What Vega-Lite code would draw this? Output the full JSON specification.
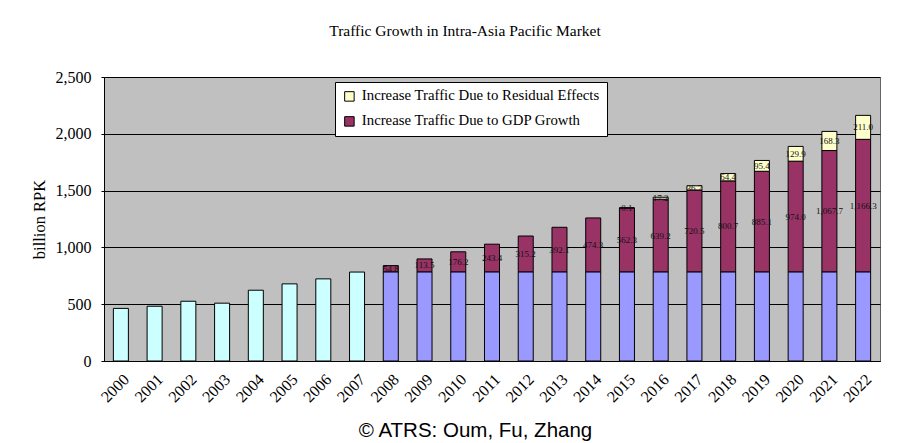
{
  "$schema": "https://vega.github.io/schema/vega-lite/v6.json",
  "background": "white",
  "padding": {"left": 30, "top": 23, "right": 0, "bottom": 0},
  "title": {
    "text": "© ATRS: Oum, Fu, Zhang",
    "orient": "bottom",
    "anchor": "middle",
    "font": "Liberation Sans",
    "fontSize": 20.5,
    "fontWeight": "normal",
    "color": "black",
    "offset": 16,
    "dx": 20
  },
  "vconcat": [
    {
      "width": 776,
      "height": 284,
      "title": {
        "text": "Traffic Growth in Intra-Asia Pacific Market",
        "font": "Liberation Serif",
        "fontSize": 15.5,
        "fontWeight": "normal",
        "color": "black",
        "anchor": "middle",
        "dx": -27,
        "offset": 30
      },
      "data": {
        "values": [
          {"year": "2000", "component": "Actual Traffic", "value": 463},
          {"year": "2001", "component": "Actual Traffic", "value": 482},
          {"year": "2002", "component": "Actual Traffic", "value": 526},
          {"year": "2003", "component": "Actual Traffic", "value": 509},
          {"year": "2004", "component": "Actual Traffic", "value": 623},
          {"year": "2005", "component": "Actual Traffic", "value": 679},
          {"year": "2006", "component": "Actual Traffic", "value": 723},
          {"year": "2007", "component": "Actual Traffic", "value": 783},
          {"year": "2008", "component": "Base Traffic", "value": 785},
          {"year": "2008", "component": "Increase Traffic Due to GDP Growth", "value": 54.8},
          {"year": "2009", "component": "Base Traffic", "value": 785},
          {"year": "2009", "component": "Increase Traffic Due to GDP Growth", "value": 113.5},
          {"year": "2010", "component": "Base Traffic", "value": 785},
          {"year": "2010", "component": "Increase Traffic Due to GDP Growth", "value": 176.2},
          {"year": "2011", "component": "Base Traffic", "value": 785},
          {"year": "2011", "component": "Increase Traffic Due to GDP Growth", "value": 243.4},
          {"year": "2012", "component": "Base Traffic", "value": 785},
          {"year": "2012", "component": "Increase Traffic Due to GDP Growth", "value": 315.2},
          {"year": "2013", "component": "Base Traffic", "value": 785},
          {"year": "2013", "component": "Increase Traffic Due to GDP Growth", "value": 392.1},
          {"year": "2014", "component": "Base Traffic", "value": 785},
          {"year": "2014", "component": "Increase Traffic Due to GDP Growth", "value": 474.3},
          {"year": "2015", "component": "Base Traffic", "value": 785},
          {"year": "2015", "component": "Increase Traffic Due to GDP Growth", "value": 562.3},
          {"year": "2015", "component": "Increase Traffic Due to Residual Effects", "value": 0.1},
          {"year": "2016", "component": "Base Traffic", "value": 785},
          {"year": "2016", "component": "Increase Traffic Due to GDP Growth", "value": 639.2},
          {"year": "2016", "component": "Increase Traffic Due to Residual Effects", "value": 17.2},
          {"year": "2017", "component": "Base Traffic", "value": 785},
          {"year": "2017", "component": "Increase Traffic Due to GDP Growth", "value": 720.5},
          {"year": "2017", "component": "Increase Traffic Due to Residual Effects", "value": 36.7},
          {"year": "2018", "component": "Base Traffic", "value": 785},
          {"year": "2018", "component": "Increase Traffic Due to GDP Growth", "value": 800.7},
          {"year": "2018", "component": "Increase Traffic Due to Residual Effects", "value": 64.4},
          {"year": "2019", "component": "Base Traffic", "value": 785},
          {"year": "2019", "component": "Increase Traffic Due to GDP Growth", "value": 885.1},
          {"year": "2019", "component": "Increase Traffic Due to Residual Effects", "value": 95.4},
          {"year": "2020", "component": "Base Traffic", "value": 785},
          {"year": "2020", "component": "Increase Traffic Due to GDP Growth", "value": 974.0},
          {"year": "2020", "component": "Increase Traffic Due to Residual Effects", "value": 129.9},
          {"year": "2021", "component": "Base Traffic", "value": 785},
          {"year": "2021", "component": "Increase Traffic Due to GDP Growth", "value": 1067.7},
          {"year": "2021", "component": "Increase Traffic Due to Residual Effects", "value": 168.3},
          {"year": "2022", "component": "Base Traffic", "value": 785},
          {"year": "2022", "component": "Increase Traffic Due to GDP Growth", "value": 1166.3},
          {"year": "2022", "component": "Increase Traffic Due to Residual Effects", "value": 211.0}
        ]
      },
      "encoding": {
        "x": {
          "field": "year",
          "type": "ordinal",
          "scale": {"paddingInner": 0.555, "paddingOuter": 0.2775},
          "axis": {
            "title": null,
            "labelAngle": -45,
            "labelFont": "Liberation Serif",
            "labelFontSize": 16,
            "labelColor": "black",
            "labelPadding": 10,
            "ticks": false,
            "domain": true,
            "domainColor": "black",
            "grid": false
          }
        },
        "y": {
          "field": "value",
          "type": "quantitative",
          "stack": "zero",
          "scale": {"domain": [0, 2500], "nice": false},
          "axis": {
            "title": "billion RPK",
            "titleFont": "Liberation Serif",
            "titleFontSize": 16.5,
            "titleFontWeight": "normal",
            "titleColor": "black",
            "titlePadding": 8,
            "values": [0, 500, 1000, 1500, 2000, 2500],
            "format": ",.0f",
            "labelFont": "Liberation Serif",
            "labelFontSize": 16,
            "labelColor": "black",
            "labelPadding": 10,
            "tickSize": 3,
            "tickColor": "black",
            "domain": true,
            "domainColor": "black",
            "grid": true,
            "gridColor": "black",
            "gridOpacity": 1,
            "gridWidth": 1
          }
        }
      },
      "layer": [
        {
          "mark": {"type": "bar", "stroke": "black", "strokeWidth": 1},
          "encoding": {
            "color": {
              "field": "component",
              "type": "nominal",
              "scale": {
                "domain": ["Actual Traffic", "Base Traffic", "Increase Traffic Due to GDP Growth", "Increase Traffic Due to Residual Effects"],
                "range": ["#CCFFFF", "#9999FF", "#993366", "#FFFFCC"]
              },
              "legend": {
                "values": ["Increase Traffic Due to Residual Effects", "Increase Traffic Due to GDP Growth"],
                "title": null,
                "orient": "none",
                "legendX": 231,
                "legendY": 5,
                "fillColor": "white",
                "strokeColor": "black",
                "padding": 7,
                "symbolType": "square",
                "symbolSize": 90,
                "symbolStrokeColor": "black",
                "symbolStrokeWidth": 1,
                "symbolOpacity": 1,
                "labelFont": "Liberation Serif",
                "labelFontSize": 14.8,
                "labelColor": "black",
                "labelLimit": 400,
                "labelOffset": 5,
                "rowPadding": 9
              }
            },
            "order": {"field": "component", "sort": "ascending"}
          }
        },
        {
          "mark": {"type": "text", "font": "Liberation Serif", "fontSize": 9, "color": "#111111", "baseline": "middle"},
          "encoding": {
            "y": {"field": "value", "type": "quantitative", "stack": "zero", "bandPosition": 0.5},
            "text": {"field": "value", "type": "quantitative", "format": ",.1f"},
            "opacity": {
              "condition": {"test": "datum.component === 'Actual Traffic' || datum.component === 'Base Traffic'", "value": 0},
              "value": 1
            },
            "order": {"field": "component", "sort": "ascending"}
          }
        }
      ]
    }
  ],
  "config": {
    "view": {"fill": "#C0C0C0", "stroke": "#666666", "strokeWidth": 1}
  }
}
